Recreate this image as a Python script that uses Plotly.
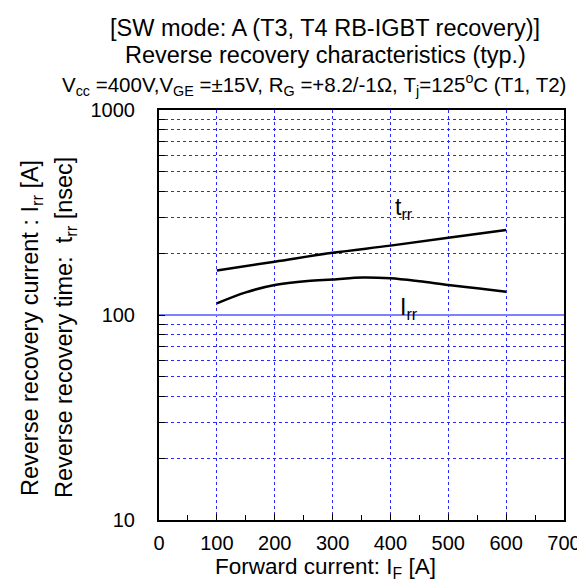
import plotly.graph_objects as go

# Data
if_trr = [100, 200, 300, 400, 500, 600]
trr = [165, 182, 201, 218, 238, 260]

if_irr = [100, 150, 200, 257, 300, 352, 400, 450, 500, 550, 600]
irr = [114, 129, 140, 146.5, 149, 152.5, 151, 146, 140, 135, 130]

x_ticks = [0, 100, 200, 300, 400, 500, 600, 700]
y_ticks = [10, 100, 1000]
y_minor = [20, 30, 40, 50, 60, 70, 80, 90, 200, 300, 400, 500, 600, 700, 800, 900]

FONT = "Liberation Sans, Arial, sans-serif"

fig = go.Figure()
fig.add_trace(go.Scatter(x=if_trr, y=trr, mode="lines", line=dict(color="black", width=2.5, shape="spline"),
                         showlegend=False, hoverinfo="skip"))
fig.add_trace(go.Scatter(x=if_irr, y=irr, mode="lines", line=dict(color="black", width=2.5, shape="spline"),
                         showlegend=False, hoverinfo="skip"))

fig.update_layout(
    width=585, height=582,
    margin=dict(l=151, r=29, t=102, b=70),
    paper_bgcolor="white", plot_bgcolor="white",
    font=dict(family=FONT, color="black", size=20),
    xaxis=dict(range=[0, 700], tickvals=x_ticks, showgrid=True, gridcolor="#2a2aff", griddash="dot", gridwidth=1,
               showline=True, linecolor="black", linewidth=2, mirror=True, ticks="inside", ticklen=6,
               tickcolor="black", zeroline=False, tickfont=dict(size=20), ticklabelstandoff=4,
               minor=dict(dtick=50, ticks="inside", ticklen=5, tickcolor="black", showgrid=False)),
    yaxis=dict(type="log", range=[1, 3], tickvals=y_ticks, ticktext=[str(v) for v in y_ticks],
               showgrid=True, gridcolor="#7f7fff", gridwidth=1.5,
               showline=True, linecolor="black", linewidth=2, mirror=True, ticks="inside", ticklen=6,
               tickcolor="black", zeroline=False, tickfont=dict(size=20), ticklabelstandoff=18,
               minor=dict(tickvals=y_minor, ticks="inside", ticklen=6, tickcolor="black",
                          showgrid=True, gridcolor="#2a2aff", griddash="dot", gridwidth=1)),
)

annos = [
    dict(text="[SW mode: A (T3, T4 RB-IGBT recovery)]", x=(317 - 151) / 405, y=(512 - 20) / 410, size=23.5),
    dict(text="Reverse recovery characteristics (typ.)", x=(317 - 151) / 405, y=(512 - 47) / 410, size=23.5),
    dict(text="V<sub>cc</sub> =400V,V<sub>GE</sub> =±15V, R<sub>G</sub> =+8.2/-1Ω, T<sub>j</sub>=125<sup>o</sup>C (T1, T2)",
         x=(306 - 151) / 405, y=(512 - 77) / 410, size=20.5),
    dict(text="Forward current: I<sub>F</sub> [A]", x=(317 - 151) / 405, y=(512 - 560) / 410, size=22.5),
]
for a in annos:
    fig.add_annotation(text=a["text"], xref="paper", yref="paper", x=a["x"], y=a["y"],
                       xanchor="center", yanchor="middle", showarrow=False, borderpad=0,
                       font=dict(family=FONT, size=a["size"], color="black"))

for txt, xp in [("Reverse recovery current : I<sub>rr</sub> [A]", 23),
                ("Reverse recovery time:  t<sub>rr</sub> [nsec]", 57)]:
    fig.add_annotation(text=txt, xref="paper", yref="paper", x=(xp - 151) / 405, y=(512 - 320) / 410,
                       xanchor="center", yanchor="middle", textangle=-90, showarrow=False, borderpad=0,
                       font=dict(family=FONT, size=23.5, color="black"))

fig.add_annotation(text="t<sub>rr</sub>", x=424, y=2.52, xref="x", yref="y", showarrow=False,
                   font=dict(family=FONT, size=23, color="black"))
fig.add_annotation(text="I<sub>rr</sub>", x=432, y=2.03, xref="x", yref="y", showarrow=False,
                   font=dict(family=FONT, size=23, color="black"))

fig.write_html("out.html")
